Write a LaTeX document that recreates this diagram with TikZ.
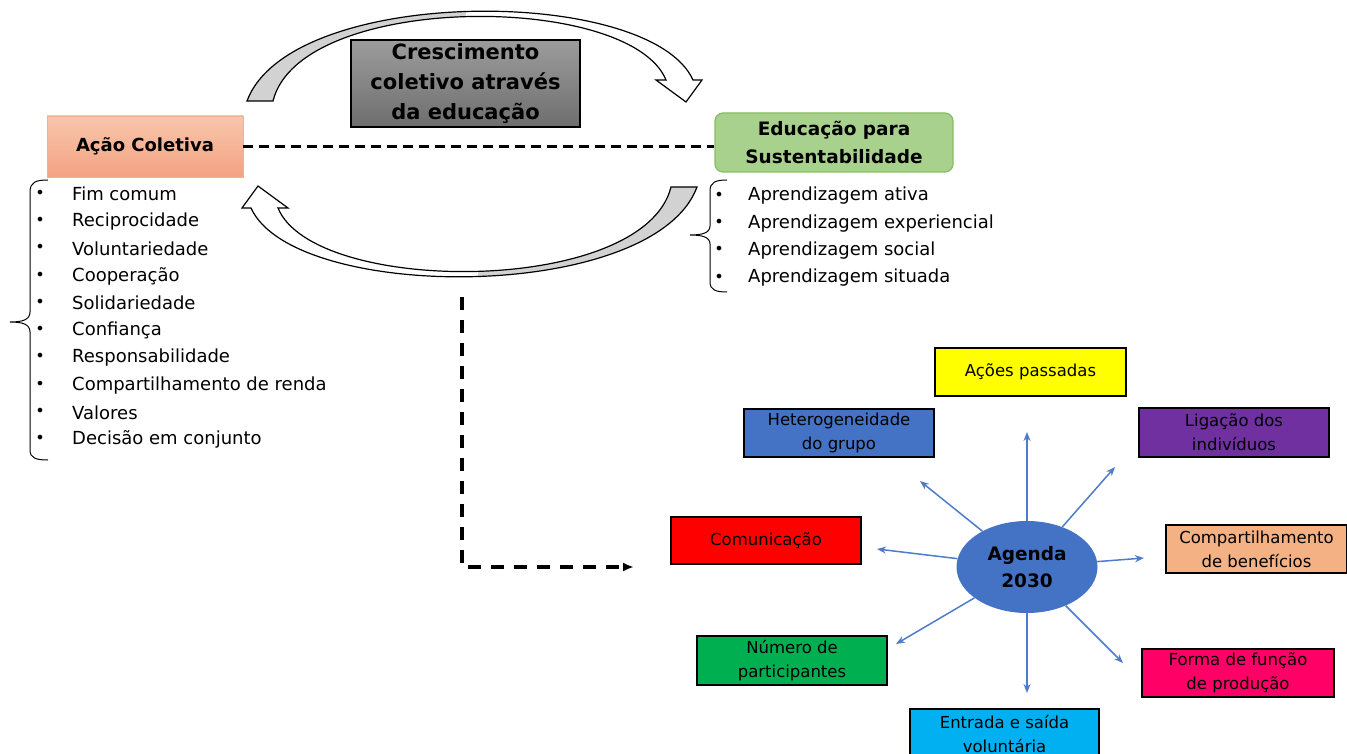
\documentclass[tikz,border=0pt]{standalone}
\usepackage{fontspec}
\setmainfont{DejaVu Sans}
\usetikzlibrary{arrows.meta,shapes.geometric}
\definecolor{actop}{HTML}{F8C6AC}
\definecolor{acbot}{HTML}{F4A282}
\definecolor{acline}{HTML}{F2B08F}
\definecolor{edfill}{HTML}{A9D18E}
\definecolor{edline}{HTML}{86BD62}
\definecolor{crtop}{HTML}{9C9C9C}
\definecolor{crbot}{HTML}{6E6E6E}
\definecolor{ribgray}{HTML}{D2D2D2}
\definecolor{cyellow}{HTML}{FFFF00}
\definecolor{cblue}{HTML}{4472C4}
\definecolor{cpurple}{HTML}{7030A0}
\definecolor{cred}{HTML}{FF0000}
\definecolor{cpeach}{HTML}{F4B183}
\definecolor{cgreen}{HTML}{00B050}
\definecolor{cpink}{HTML}{FF0066}
\definecolor{ccyan}{HTML}{00B0F0}
\definecolor{agblue}{HTML}{4472C4}
\definecolor{arblue}{HTML}{4F7BC9}
\newcommand{\myribbonpath}{(247,101) .. controls (290,-15) and (650,-15) .. (693,80) -- (702,80) -- (686,102) -- (656,80) -- (666,80) .. controls (630,-8) and (300,-8) .. (273,101) -- cycle}
\newcommand{\mycurvedribbon}{%
  \fill[white] \myribbonpath;
  \begin{scope}
    \clip (200,-30) rectangle (466,110);
    \fill[ribgray] \myribbonpath;
  \end{scope}
  \draw[line width=1.2pt, line join=miter] \myribbonpath;
}
\tikzset{
  abox/.style={draw=black, line width=1.3pt, inner sep=0pt, align=center,
    font=\fontsize{16.5}{24}\selectfont},
  listitem/.style={anchor=west, inner sep=0pt, font=\fontsize{18}{22}\selectfont},
  bul/.style={inner sep=0pt, font=\fontsize{16}{18}\selectfont},
  agarrow/.style={draw=arblue, line width=1.5pt, -{Stealth[length=9pt,width=7pt]}},
  dashconn/.style={line width=3.2pt, dash pattern=on 10pt off 6pt},
  dashlong/.style={line width=3.4pt, dash pattern=on 13pt off 10pt},
  brace/.style={line width=1pt},
}
\begin{document}
\begin{tikzpicture}[x=1pt,y=-1pt]
\useasboundingbox (0,0) rectangle (1347,754);

% curved arrows
\mycurvedribbon
\begin{scope}[rotate around={180:(472,144)}]
\mycurvedribbon
\end{scope}

% main boxes
\node[draw=acline, line width=0.8pt, top color=actop, bottom color=acbot,
  minimum width=196pt, minimum height=61pt, inner sep=0pt,
  font=\bfseries\fontsize{18}{22}\selectfont] (ac) at (145,146.5) {Ação Coletiva};
\node[draw=edline, line width=1.2pt, fill=edfill, rounded corners=8pt,
  minimum width=238pt, minimum height=59pt, inner sep=0pt, align=center,
  font=\bfseries\fontsize{18.5}{28}\selectfont] (ed) at (834,142.5) {Educação para\\Sustentabilidade};
\node[draw=black, line width=1.3pt, top color=crtop, bottom color=crbot,
  minimum width=229pt, minimum height=87pt, inner sep=0pt, align=center,
  font=\bfseries\fontsize{21}{30}\selectfont] (cr) at (465.5,83.5) {Crescimento\\coletivo através\\da educação};

% dashed connector between main boxes
\draw[dashconn] (ac.east) -- (ac.east -| ed.west);

% left list
\foreach \t [count=\i] in {Fim comum,Reciprocidade,Voluntariedade,Cooperação,Solidariedade,Confiança,Responsabilidade,Compartilhamento de renda,Valores,Decisão em conjunto}{
  \node[bul] (lb\i) at (40,{194+27.3*(\i-1)}) {•};
  \node[listitem] (l\i) at (72,{194+27.3*(\i-1)}) {\t};
}
\draw[brace] (48,180) .. controls (36,180) and (30,182) .. (30,192) -- (30,312)
  .. controls (30,320) and (22,322) .. (10,322) .. controls (22,322) and (30,324) .. (30,332)
  -- (30,450) .. controls (30,458) and (36,460) .. (48,460);

% right list
\foreach \t [count=\i] in {Aprendizagem ativa,Aprendizagem experiencial,Aprendizagem social,Aprendizagem situada}{
  \node[bul] (rb\i) at (719,{196+27.3*(\i-1)}) {•};
  \node[listitem] (r\i) at (748,{196+27.3*(\i-1)}) {\t};
}
\draw[brace] (727,180) .. controls (716,180) and (710,182) .. (710,191) -- (710,226)
  .. controls (710,233) and (702,235) .. (690,235) .. controls (702,235) and (710,237) .. (710,244)
  -- (710,282) .. controls (710,290) and (716,292) .. (727,292);

% dashed L connector
\coordinate (vs) at (462,297);
\coordinate (ve) at (634,567);
\draw[dashlong, -{Latex[length=11pt,width=9pt]}] (vs) |- (ve);

% Agenda
\node[ellipse, fill=agblue, minimum width=141pt, minimum height=92pt, inner sep=0pt,
  align=center, font=\bfseries\fontsize{18.5}{27}\selectfont] (ag) at (1027,567) {Agenda\\2030};

\node[abox, fill=cyellow, minimum width=191pt, minimum height=48pt] (ap) at (1030.5,372) {Ações passadas};
\node[abox, fill=cblue, minimum width=190pt, minimum height=48pt] (het) at (839,433) {Heterogeneidade\\do grupo};
\node[abox, fill=cpurple, minimum width=190pt, minimum height=49pt] (lig) at (1234,432.5) {Ligação dos\\indivíduos};
\node[abox, fill=cred, minimum width=190pt, minimum height=47pt] (com) at (766,540.5) {Comunicação};
\node[abox, fill=cpeach, minimum width=181pt, minimum height=48pt] (cb) at (1256.5,549) {Compartilhamento\\de benefícios};
\node[abox, fill=cgreen, minimum width=190pt, minimum height=49pt] (np) at (792,660.5) {Número de\\participantes};
\node[abox, fill=cpink, minimum width=192pt, minimum height=48pt] (ff) at (1238,673) {Forma de função\\de produção};
\node[abox, fill=ccyan, minimum width=189pt, minimum height=50pt] (en) at (1004.5,734) {Entrada e saída\\voluntária};

\coordinate (eU) at (1027,432);
\coordinate (eUL) at (920,481);
\coordinate (eUR) at (1115,467);
\coordinate (eL) at (877,549);
\coordinate (eR) at (1144,558);
\coordinate (eDL) at (896,644);
\coordinate (eD) at (1027,693);
\coordinate (eDR) at (1123,663);
\foreach \e in {eU,eUL,eUR,eL,eR,eDL,eD,eDR}{
  \draw[agarrow] (ag) -- (\e);
}
\end{tikzpicture}
\end{document}
